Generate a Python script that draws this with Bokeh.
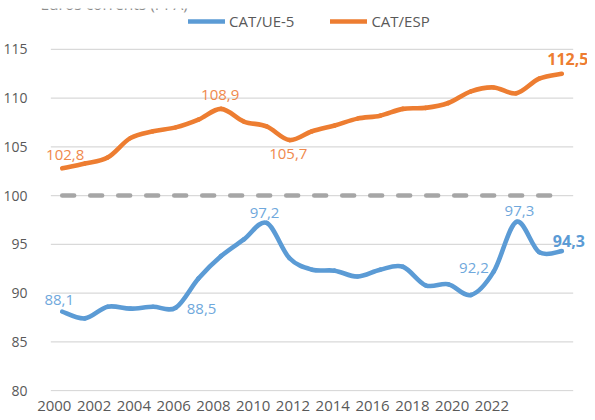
from bokeh.plotting import figure
from bokeh.models import Range1d, LinearAxis, FixedTicker, Legend, LegendItem, ColumnDataSource, Label
from bokeh.core.properties import value
from bokeh.embed import file_html
from bokeh.resources import INLINE

# ---------------- data ----------------
years = [2000, 2001, 2002, 2003, 2004, 2005, 2006, 2007, 2008, 2009, 2010, 2011,
         2012, 2013, 2014, 2015, 2016, 2017, 2018, 2019, 2020, 2021, 2022]
cat_esp = [102.8, 103.3, 103.9, 105.9, 106.6, 107.0, 107.8, 108.9, 107.6, 107.1, 105.7, 106.6,
           107.2, 107.9, 108.2, 108.9, 109.0, 109.5, 110.7, 111.1, 110.5, 112.0, 112.5]
cat_ue5 = [88.1, 87.4, 88.6, 88.4, 88.6, 88.5, 91.5, 93.8, 95.5, 97.2, 93.6, 92.4,
           92.3, 91.7, 92.4, 92.7, 90.8, 90.9, 89.8, 92.2, 97.3, 94.2, 94.3]
parity = [100, 100, 100, 100, 100, 100, 100, 100, 100, 100, 100, 100,
          100, 100, 100, 100, 100, 100, 100, 100, 100, 100, 100]
y_ticks = [80, 85, 90, 95, 100, 105, 110, 115]
x_tick_labels = ["2000", "2002", "2004", "2006", "2008", "2010",
                 "2012", "2014", "2016", "2018", "2020", "2022"]
series_names = ["CAT/UE-5", "CAT/ESP"]
unit_title = "Euros corrents (PPA)"
esp_label_years = [2000, 2007, 2010, 2022]
ue5_label_years = [2000, 2005, 2009, 2019, 2020, 2022]

# ---------------- style ----------------
BLUE = "#5B9BD5"
ORANGE = "#ED7D31"
BLUE_TXT = "#6FA8DC"
ORANGE_TXT = "#F0894C"
GRID = "#D9D9D9"
TXT = "#595959"
FONT = "Open Sans"

p = figure(width=587, height=418, output_backend="svg", toolbar_location=None,
           x_axis_type=None, x_range=Range1d(1999.045, 2023.13), y_range=Range1d(79.9, 119.2),
           min_border_left=32, min_border_right=0, min_border_top=8, min_border_bottom=27)
p.outline_line_color = None
p.xgrid.visible = False
p.ygrid.visible = False
p.background_fill_color = "white"
p.border_fill_color = "white"

# y axis
yax = p.yaxis[0]
yax.ticker = FixedTicker(ticks=y_ticks)
yax.axis_line_color = None
yax.major_tick_line_color = None
yax.minor_tick_line_color = None
yax.major_label_standoff = 7
yax.major_label_text_font = FONT
yax.major_label_text_font_size = "14px"
yax.major_label_text_color = TXT

# x labels on their own scale (as placed in the original)
p.extra_x_ranges = {"lab": Range1d(-0.347, 13.404)}
xax = LinearAxis(x_range_name="lab")
xax.ticker = FixedTicker(ticks=list(range(len(x_tick_labels))))
xax.major_label_overrides = {i: t for i, t in enumerate(x_tick_labels)}
xax.axis_line_color = None
xax.major_tick_line_color = None
xax.minor_tick_line_color = None
xax.major_label_standoff = 3
xax.major_label_text_font = FONT
xax.major_label_text_font_size = "15px"
xax.major_label_text_color = TXT
p.add_layout(xax, "below")

# grid lines limited to the category span
x0 = years[0] - 0.5
x1 = years[-1] + 0.5
p.segment(x0=[x0] * len(y_ticks), x1=[x1] * len(y_ticks), y0=y_ticks, y1=y_ticks,
          line_color=GRID, line_width=1.3)

# parity line
p.line(years, parity, line_color="#A6A6A6", line_width=4.5, line_dash="12 16", line_cap="round")


def smooth(xs, ys, t=1.0 / 6.0):
    d = dict(x0=[], y0=[], x1=[], y1=[], cx0=[], cy0=[], cx1=[], cy1=[])
    n = len(xs)
    for i in range(n - 1):
        a = i - 1 if i > 0 else i
        b = i + 2 if i + 2 < n else i + 1
        d["x0"].append(xs[i]); d["y0"].append(ys[i])
        d["x1"].append(xs[i + 1]); d["y1"].append(ys[i + 1])
        d["cx0"].append(xs[i] + (xs[i + 1] - xs[a]) * t)
        d["cy0"].append(ys[i] + (ys[i + 1] - ys[a]) * t)
        d["cx1"].append(xs[i + 1] - (xs[b] - xs[i]) * t)
        d["cy1"].append(ys[i + 1] - (ys[b] - ys[i]) * t)
    return ColumnDataSource(d)


r_esp = p.bezier(x0="x0", y0="y0", x1="x1", y1="y1", cx0="cx0", cy0="cy0", cx1="cx1", cy1="cy1",
                 source=smooth(years, cat_esp), line_color=ORANGE, line_width=4.6, line_cap="round")
r_ue5 = p.bezier(x0="x0", y0="y0", x1="x1", y1="y1", cx0="cx0", cy0="cy0", cx1="cx1", cy1="cy1",
                 source=smooth(years, cat_ue5), line_color=BLUE, line_width=4.6, line_cap="round")


def fmt(v):
    return ("%.1f" % v).replace(".", ",")


# label placement styles: year -> (align, x_offset, y_offset, bold)
esp_style = {2000: ("center", 3, -13, False), 2007: ("center", -1, -14, False),
             2010: ("center", -1, 14, False), 2022: ("center", 6, -15, True)}
ue5_style = {2000: ("center", -3, -12, False), 2005: ("left", 11, 1, False),
             2009: ("center", -2, -10, False), 2019: ("right", -5, -4, False),
             2020: ("center", 3, -11, False), 2022: ("center", 7, -10, True)}

for yrs, vals, style, col, col_b in [(esp_label_years, cat_esp, esp_style, ORANGE_TXT, ORANGE),
                                     (ue5_label_years, cat_ue5, ue5_style, BLUE_TXT, BLUE)]:
    for yr in yrs:
        v = vals[years.index(yr)]
        al, xo, yo, bold = style[yr]
        p.text(x=[yr], y=[v], text=[fmt(v)], text_align=al, text_baseline="alphabetic",
               x_offset=xo, y_offset=yo, text_font=value(FONT),
               text_font_size="16px" if bold else "15px",
               text_font_style="bold" if bold else "normal",
               text_color=col_b if bold else col)

legend = Legend(items=[LegendItem(label=series_names[0], renderers=[r_ue5]),
                       LegendItem(label=series_names[1], renderers=[r_esp])],
                location=(148, 360), orientation="horizontal",
                glyph_width=37, glyph_height=16, label_height=16, label_standoff=4,
                spacing=36, padding=0, margin=0,
                label_text_font=FONT, label_text_font_size="15px", label_text_color=TXT,
                background_fill_alpha=0, border_line_color=None)
p.add_layout(legend, "center")

# unit caption, cut by the top edge as in the original
p.add_layout(Label(x=0, y=388, x_units="screen", y_units="screen", text=unit_title,
                   text_font=FONT, text_font_size="15.5px", text_color="#8C8C8C",
                   text_baseline="alphabetic", text_align="left"))

open("out.html", "w").write(file_html(p, INLINE))
